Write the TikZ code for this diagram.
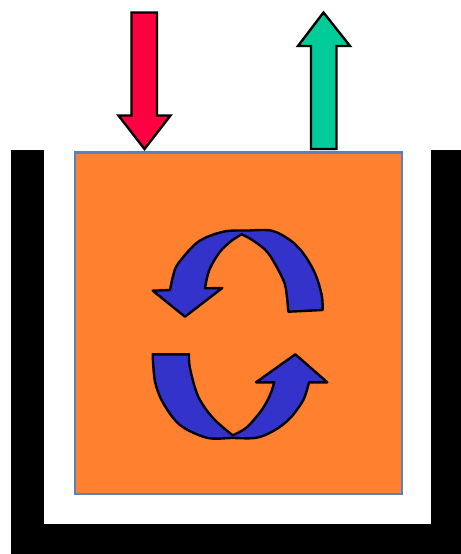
\documentclass[tikz,border=0pt]{standalone}
\usepackage{tikz}
\definecolor{tankorange}{HTML}{FF8130}
\definecolor{tankedge}{HTML}{5B82B8}
\definecolor{swirlblue}{HTML}{3333CC}
\definecolor{inred}{HTML}{FF0040}
\definecolor{outgreen}{HTML}{00CC99}
\tikzset{
    flowarrow/.style={draw=black,line width=1.2pt,line join=miter},
    swirl/.style={draw=black,fill=swirlblue,line width=1.2pt,line join=round},
    swirlcurve/.style={smooth,tension=0.55},
}

\begin{document}
\begin{tikzpicture}[x=0.5pt,y=-0.5pt]
    \useasboundingbox (0,0) rectangle (461,554);

    % vessel walls
    \fill[black] (11,150) rectangle (44,554);
    \fill[black] (431,150) rectangle (461,554);
    \fill[black] (11,523.5) rectangle (461,554);

    % contents
    \draw[fill=tankorange,draw=tankedge,line width=1.2pt] (75,152.5) rectangle (402,494);

    % feed and outlet
    \draw[flowarrow,fill=inred] (131.5,12.5) -- (157,12.5) -- (157,115.5) -- (170.5,115.5) -- (144.5,149) -- (118.5,115.5) -- (131.5,115.5) -- cycle;
    \draw[flowarrow,fill=outgreen] (311,149) -- (336.5,149) -- (336.5,46) -- (350,46) -- (323.5,12.5) -- (298,46) -- (311,46) -- cycle;

    % upper swirl
    \draw[swirl] (288.3,311.7) -- (322.7,310)
        -- plot[swirlcurve] coordinates {(322.7,310) (321.7,295) (315,273.3) (303.3,253.3) (290,240)
            (271.7,230.7) (248,230.5) (223.3,231.7) (198.3,241.7) (178.3,263.3) (173.3,275) (170,290)}
        -- (152.7,290.7) -- (185,316.7) -- (222.3,288) -- (205,288.3)
        -- plot[swirlcurve] coordinates {(205,288.3) (209.3,270) (220,251.7) (231.7,240.7) (241.7,234.3)}
        -- plot[swirlcurve] coordinates {(241.7,234.3) (253.3,240.7) (268.3,253.3) (283.3,280) (286.7,295) (288.3,311.7)}
        -- cycle;

    % lower swirl
    \draw[swirl] (152.7,354.3) -- (189,354.3)
        -- plot[swirlcurve] coordinates {(189,354.3) (190,368.3) (198.3,396.7) (213.3,418.3) (232.7,435.3)}
        -- plot[swirlcurve] coordinates {(232.7,435.3) (246.7,427.3) (261.7,410) (270,395) (274.3,382.3)}
        -- (256,382.3) -- (295.3,354.3) -- (327.3,382.3) -- (309,382.3)
        -- plot[swirlcurve] coordinates {(309,382.3) (303.3,400) (290,418.3) (275,430) (256.7,437.7)
            (232,438) (206.7,437.7) (180,425) (163.3,403.3) (155,381.7) (152.7,354.3)}
        -- cycle;
\end{tikzpicture}
\end{document}
